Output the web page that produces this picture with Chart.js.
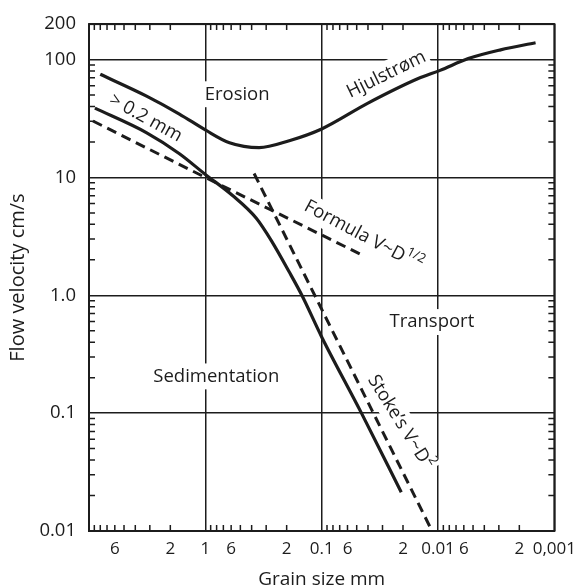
<!DOCTYPE html>
<html>
<head>
<meta charset="utf-8">
<script src="https://cdn.jsdelivr.net/npm/chart.js@4/dist/chart.umd.min.js"></script>
<style>
html, body { margin: 0; padding: 0; background: #fff; }
#wrap { width: 584px; height: 586px; }
</style>
</head>
<body>
<div id="wrap"><canvas id="chart"></canvas></div>
<script>
// grain size in mm, flow velocity in cm/s
const erosionSize = [8.0, 3.2, 1.67, 1.0, 0.62, 0.345, 0.19, 0.1, 0.04, 0.0148, 0.0096, 0.0055, 0.0029, 0.00145];
const erosionVel = [75, 49, 34.5, 25.3, 19.7, 17.9, 20.5, 25.8, 42.7, 69, 81, 102, 121, 139];

const settleSize = [8.9, 3.19, 1.67, 1.0, 0.587, 0.366, 0.267, 0.191, 0.148, 0.1, 0.0455, 0.0207];
const settleVel = [38.7, 23.9, 15.9, 10.6, 7.06, 4.52, 2.84, 1.59, 1.0, 0.443, 0.1, 0.0213];

const formulaSize = [9.25, 1.0, 0.0455];
const formulaVel = [30.1, 10, 2.21];

const stokesSize = [0.381, 0.0117];
const stokesVel = [10.8, 0.0108];

const xTickValues = [6, 2, 1, 0.6, 0.2, 0.1, 0.06, 0.02, 0.01, 0.006, 0.002, 0.001];
const xTickLabels = ["6", "2", "1", "6", "2", "0.1", "6", "2", "0.01", "6", "2", "0,001"];
const yTickValues = [0.01, 0.1, 1, 10, 100, 200];
const yTickLabels = ["0.01", "0.1", "1.0", "10", "100", "200"];

const ink = "#1c1c1c";
const face = '"Open Sans", sans-serif';

// text written on the diagram, anchored in data space
const notes = [
	{ text: "Erosion", x: 0.533, y: 50.8, angle: 0 },
	{ text: "Hjulstrøm", x: 0.0278, y: 74.8, angle: -26 },
	{ text: "> 0.2 mm", x: 3.26, y: 31.9, angle: 29 },
	{ text: "Formula V~D", sup: "1/2", x: 0.0438, y: 3.19, angle: 28 },
	{ text: "Transport", x: 0.0113, y: 0.593, angle: 0 },
	{ text: "Sedimentation", x: 0.805, y: 0.205, angle: 0 },
	{ text: "Stoke’s V~D", sup: "2", x: 0.0211, y: 0.084, angle: 58 }
];

function points(xs, ys) {
	return xs.map((v, i) => ({ x: v, y: ys[i] }));
}

function isDecade(v) {
	const l = Math.log10(v);
	return Math.abs(l - Math.round(l)) < 1e-9;
}

function drawNote(ctx, n, px, py) {
	const size = 18.5;
	const font = size + "px " + face;
	const supFont = Math.round(size * 0.68) + "px " + face;
	ctx.save();
	ctx.translate(px, py);
	ctx.rotate(n.angle * Math.PI / 180);
	ctx.font = font;
	const w1 = ctx.measureText(n.text).width;
	let w2 = 0;
	if (n.sup) {
		ctx.font = supFont;
		w2 = ctx.measureText(n.sup).width;
	}
	const w = w1 + w2;
	ctx.fillStyle = "#fff";
	ctx.fillRect(-w / 2 - 3, -size * 0.7, w + 6, size * 1.4);
	ctx.fillStyle = ink;
	ctx.textBaseline = "middle";
	ctx.textAlign = "left";
	ctx.font = font;
	ctx.fillText(n.text, -w / 2, 0);
	if (n.sup) {
		ctx.font = supFont;
		ctx.fillText(n.sup, -w / 2 + w1, -size * 0.4);
	}
	ctx.restore();
}

const decorations = {
	id: "decorations",
	beforeDatasetsDraw(chart) {
		const { ctx, chartArea: a, scales: { x, y } } = chart;
		ctx.save();
		ctx.strokeStyle = ink;
		ctx.lineWidth = 1.5;
		ctx.beginPath();
		for (let e = -3; e <= 0; e++) {
			for (let m = 2; m <= 9; m++) {
				const px = x.getPixelForValue(m * Math.pow(10, e));
				ctx.moveTo(px, a.bottom);
				ctx.lineTo(px, a.bottom - 6);
				ctx.moveTo(px, a.top);
				ctx.lineTo(px, a.top + 6);
			}
		}
		for (let e = -2; e <= 2; e++) {
			for (let m = 2; m <= 9; m++) {
				const v = m * Math.pow(10, e);
				if (v >= 200) continue;
				const py = y.getPixelForValue(v);
				ctx.moveTo(a.left, py);
				ctx.lineTo(a.left + 6, py);
				ctx.moveTo(a.right, py);
				ctx.lineTo(a.right - 6, py);
			}
		}
		ctx.stroke();
		ctx.lineWidth = 2;
		ctx.strokeRect(a.left, a.top, a.right - a.left, a.bottom - a.top);
		notes.forEach(n => drawNote(ctx, n, x.getPixelForValue(n.x), y.getPixelForValue(n.y)));
		ctx.restore();
	}
};

const solid = { borderColor: ink, borderWidth: 3.2, pointRadius: 0, fill: false, cubicInterpolationMode: "monotone" };
const dashed = { borderColor: ink, borderWidth: 3, borderDash: [10, 6], pointRadius: 0, fill: false, tension: 0 };

new Chart(document.getElementById("chart"), {
	type: "line",
	data: {
		datasets: [
			Object.assign({ label: "Hjulstrøm", data: points(erosionSize, erosionVel) }, solid),
			Object.assign({ label: "> 0.2 mm", data: points(settleSize, settleVel) }, solid),
			Object.assign({ label: "Formula V~D1/2", data: points(formulaSize, formulaVel) }, dashed),
			Object.assign({ label: "Stoke's V~D2", data: points(stokesSize, stokesVel) }, dashed)
		]
	},
	options: {
		responsive: true,
		maintainAspectRatio: false,
		animation: false,
		layout: { padding: { top: 17, right: 27, left: 0, bottom: 0 } },
		plugins: { legend: { display: false }, tooltip: { enabled: false } },
		scales: {
			x: {
				type: "logarithmic",
				reverse: true,
				min: 0.001,
				max: 10,
				afterBuildTicks: s => { s.ticks = xTickValues.map(v => ({ value: v })); },
				afterFit: s => { s.height = 55; },
				ticks: {
					autoSkip: false,
					maxRotation: 0,
					padding: 8,
					color: ink,
					font: { family: face, size: 17 },
					callback: v => xTickLabels[xTickValues.indexOf(v)]
				},
				grid: {
					drawTicks: false,
					lineWidth: 1.5,
					color: c => (c.tick && isDecade(c.tick.value)) ? ink : "rgba(0,0,0,0)"
				},
				border: { display: false },
				title: {
					display: true,
					text: "Grain size mm",
					color: ink,
					font: { family: face, size: 19 },
					padding: { top: 0, bottom: -5 }
				}
			},
			y: {
				type: "logarithmic",
				min: 0.01,
				max: 200,
				afterBuildTicks: s => { s.ticks = yTickValues.map(v => ({ value: v })); },
				afterFit: s => { s.width = 89; },
				ticks: {
					padding: 13,
					color: ink,
					font: { family: face, size: 18.5 },
					callback: v => yTickLabels[yTickValues.indexOf(v)]
				},
				grid: { drawTicks: false, lineWidth: 1.5, color: ink },
				border: { display: false },
				title: {
					display: true,
					text: "Flow velocity cm/s",
					color: ink,
					font: { family: face, size: 20 },
					padding: { top: 6, bottom: 0 }
				}
			}
		}
	},
	plugins: [decorations]
});
</script>
</body>
</html>
